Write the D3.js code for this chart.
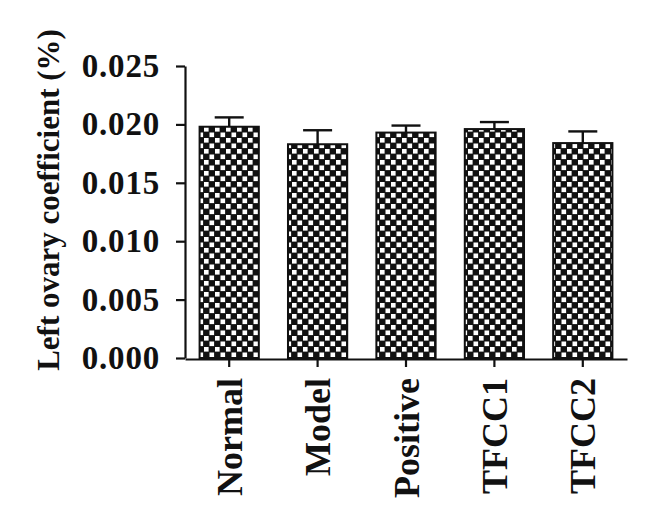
<!DOCTYPE html>
<html>
<head>
<meta charset="utf-8">
<script src="https://cdn.jsdelivr.net/npm/d3@7"></script>
<style>
  html, body { margin: 0; padding: 0; background: #fff; }
  svg { display: block; }
</style>
</head>
<body>
<svg id="chart" width="660" height="526"></svg>
<script>
const categories = ["Normal", "Model", "Positive", "TFCC1", "TFCC2"];
const means = [0.0198, 0.0183, 0.0193, 0.0196, 0.0184];
const errors = [0.0008, 0.0012, 0.0006, 0.0006, 0.0010];
const yTicks = [0, 0.005, 0.010, 0.015, 0.020, 0.025];
const yTitle = "Left ovary coefficient (%)";

const svg = d3.select("#chart");
const font = "'Liberation Serif', 'Times New Roman', serif";

// checkerboard pattern
const defs = svg.append("defs");
const pat = defs.append("pattern")
  .attr("id", "checker")
  .attr("patternUnits", "userSpaceOnUse")
  .attr("width", 11).attr("height", 11);
pat.append("rect").attr("width", 11).attr("height", 11).attr("fill", "#111");
pat.append("rect").attr("x", 0.5).attr("y", 0.5).attr("width", 4.6).attr("height", 4.6).attr("fill", "#fff");
pat.append("rect").attr("x", 6).attr("y", 6).attr("width", 4.6).attr("height", 4.6).attr("fill", "#fff");

const x = d3.scaleBand().domain(categories).range([185, 627]).paddingInner(0.33).paddingOuter(0.165);
const y = d3.scaleLinear().domain([0, 0.025]).range([358, 66]);

// bars
svg.append("g").selectAll("rect")
  .data(categories)
  .join("rect")
  .attr("x", d => x(d))
  .attr("y", (d, i) => y(means[i]))
  .attr("width", x.bandwidth())
  .attr("height", (d, i) => y(0) - y(means[i]))
  .attr("fill", "url(#checker)")
  .attr("stroke", "#111")
  .attr("stroke-width", 2);

// error bars
const eb = svg.append("g").attr("stroke", "#111").attr("stroke-width", 2.4);
categories.forEach((c, i) => {
  const cx = x(c) + x.bandwidth() / 2;
  eb.append("line").attr("x1", cx).attr("x2", cx)
    .attr("y1", y(means[i])).attr("y2", y(means[i] + errors[i]));
  eb.append("line").attr("x1", cx - 14.5).attr("x2", cx + 14.5)
    .attr("y1", y(means[i] + errors[i])).attr("y2", y(means[i] + errors[i]));
});

// y axis
const yAxis = svg.append("g")
  .attr("transform", "translate(185,0)")
  .call(d3.axisLeft(y).tickValues(yTicks).tickFormat(d3.format(".3f")).tickSize(9).tickPadding(16).tickSizeOuter(0));
yAxis.select(".domain").attr("stroke", "#111").attr("stroke-width", 2.2);
yAxis.selectAll(".tick line").attr("stroke", "#111").attr("stroke-width", 2.2);
yAxis.selectAll(".tick text")
  .attr("font-family", font).attr("font-weight", "bold").attr("font-size", 33)
  .attr("letter-spacing", 0.8)
  .attr("fill", "#111");

// x axis
const xAxis = svg.append("g")
  .attr("transform", "translate(0,359)")
  .call(d3.axisBottom(x).tickSize(8).tickSizeOuter(0));
xAxis.select(".domain").attr("stroke", "#111").attr("stroke-width", 2.2);
xAxis.selectAll(".tick line").attr("stroke", "#111").attr("stroke-width", 2.2);
xAxis.selectAll(".tick text")
  .attr("font-family", font).attr("font-weight", "bold").attr("font-size", 36)
  .attr("fill", "#111")
  .attr("text-anchor", "end")
  .attr("transform", "translate(0,19) rotate(-90)")
  .attr("x", 0).attr("y", 0).attr("dy", "0.35em");

// y title
svg.append("text")
  .attr("transform", "translate(59,200) rotate(-90)")
  .attr("text-anchor", "middle")
  .attr("font-family", font).attr("font-weight", "bold").attr("font-size", 31)
  .attr("fill", "#111")
  .text(yTitle);
</script>
</body>
</html>
